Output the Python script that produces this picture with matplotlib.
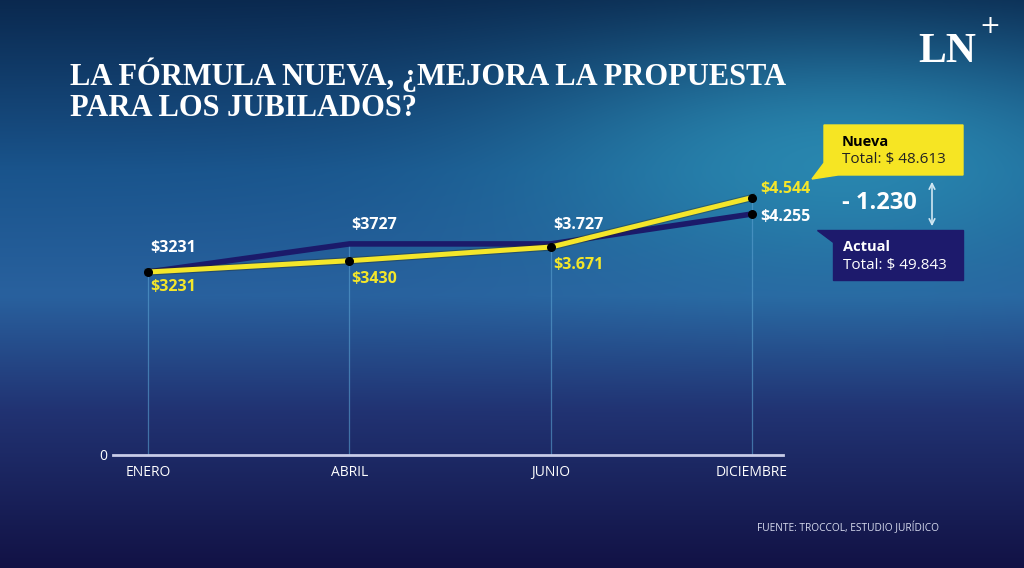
import numpy as np
import matplotlib
matplotlib.use("Agg")
import matplotlib.pyplot as plt
from matplotlib.patches import Polygon

meses = ["ENERO", "ABRIL", "JUNIO", "DICIEMBRE"]
actual = [3231, 3727, 3727, 4255]
nueva = [3231, 3430, 3671, 4544]
etiquetas_actual = ["$3231", "$3727", "$3.727", "$4.255"]
etiquetas_nueva = ["$3231", "$3430", "$3.671", "$4.544"]
total_nueva = "$ 48.613"
total_actual = "$ 49.843"
diferencia = "- 1.230"

AZUL = "#1b1a6a"
AMARILLO = "#f4e62a"

fig = plt.figure(figsize=(10.24, 5.68), dpi=100)

# fondo degradado
H, W = 568, 1024
yy, xx = np.mgrid[0:H, 0:W]
u = xx / W
v = yy / H
paradas = [0.0, 0.3, 0.52, 0.72, 1.0]
colores = np.array([[0.04, 0.16, 0.31],
                    [0.10, 0.33, 0.55],
                    [0.16, 0.38, 0.62],
                    [0.13, 0.20, 0.45],
                    [0.07, 0.07, 0.27]])
base = np.stack([np.interp(v, paradas, colores[:, c]) for c in range(3)], axis=-1)
teal = np.array([0.17, 0.56, 0.71])
glow = 0.85 * np.exp(-((u - 0.82) ** 2 / (2 * 0.22 ** 2) + (v - 0.28) ** 2 / (2 * 0.15 ** 2)))
img = base + (teal - base) * glow[..., None]
bg = fig.add_axes([0, 0, 1, 1])
bg.imshow(np.clip(img, 0, 1), aspect="auto", extent=[0, W, H, 0])
bg.set_xlim(0, W)
bg.set_ylim(H, 0)
bg.axis("off")

ax = fig.add_axes([113 / W, 113 / H, 670 / W, 305 / H])
ax.patch.set_alpha(0)
x = np.arange(len(meses))
ax.set_xlim(-0.174, 3.154)
ax.set_ylim(0, 5385)

for xi, a, n in zip(x, actual, nueva):
    ax.plot([xi, xi], [0, max(a, n)], color="#5aa0d0", lw=0.9, alpha=0.6, zorder=1)

ax.plot(x, actual, color=AZUL, lw=4, solid_capstyle="round", zorder=3)
ax.plot(x, nueva, color="#2a2a10", lw=5.2, alpha=0.35, zorder=4)
ax.plot(x, nueva, color=AMARILLO, lw=3.6, solid_capstyle="round", zorder=5)
ax.scatter(x, nueva, s=30, color="black", zorder=6)
ax.scatter([x[-1]], [actual[-1]], s=30, color="black", zorder=6)

# etiquetas de valores (desplazamientos en puntos)
offs_a = [(1.5, 17), (1.5, 13.5), (1.5, 13.5), (6, -2)]
offs_n = [(1.5, -11), (1.5, -13.5), (1.5, -13), (6, 6)]
for i in range(len(meses)):
    ax.annotate(etiquetas_actual[i], (x[i], actual[i]), xytext=offs_a[i],
                textcoords="offset points", color="white", fontsize=11.5,
                ha="left", va="center", fontweight="bold", family="Open Sans")
    ax.annotate(etiquetas_nueva[i], (x[i], nueva[i]), xytext=offs_n[i],
                textcoords="offset points", color=AMARILLO, fontsize=11.5,
                ha="left", va="center", fontweight="bold", family="Open Sans")

for s in ["top", "right", "left"]:
    ax.spines[s].set_visible(False)
ax.spines["bottom"].set_color("#c8cce8")
ax.spines["bottom"].set_linewidth(2)
ax.set_yticks([0])
ax.set_yticklabels(["0"])
ax.set_xticks(x)
ax.set_xticklabels(meses)
ax.tick_params(axis="both", length=0, colors="white", labelsize=10)
ax.tick_params(axis="x", pad=7)
ax.tick_params(axis="y", pad=4)
for t in ax.get_xticklabels() + ax.get_yticklabels():
    t.set_family("Open Sans")

# titulo
bg.text(70, 58, "LA FÓRMULA NUEVA, ¿MEJORA LA PROPUESTA\nPARA LOS JUBILADOS?",
        color="white", fontsize=22, fontweight="bold", family="Liberation Serif",
        va="top", ha="left", linespacing=1.05)

# logo
bg.text(918, 62, "LN", color="white", fontsize=30, fontweight="bold",
        family="Liberation Serif", va="baseline")
bg.text(979, 33, "+", color="white", fontsize=18, family="DejaVu Sans", va="baseline")

# cajas
bg.add_patch(Polygon([[824, 125], [963, 125], [963, 175], [838, 175], [812, 179], [824, 163]],
                     closed=True, color="#f6e523", zorder=5))
bg.text(842, 142, "Nueva", color="black", fontsize=10.5, fontweight="bold",
        family="Open Sans", va="center", zorder=6)
bg.text(842, 160, "Total: " + total_nueva, color="#222", fontsize=11,
        family="Open Sans", va="center", zorder=6)
bg.add_patch(Polygon([[817, 230], [963, 230], [963, 280], [833, 280], [833, 242]],
                     closed=True, color="#1d1a6c", zorder=5))
bg.text(843, 247, "Actual", color="white", fontsize=10.5, fontweight="bold",
        family="Open Sans", va="center", zorder=6)
bg.text(843, 266, "Total: " + total_actual, color="white", fontsize=11,
        family="Open Sans", va="center", zorder=6)

bg.text(879, 203, diferencia, color="white", fontsize=17, fontweight="bold",
        family="Open Sans", ha="center", va="center")
bg.annotate("", xy=(932, 179), xytext=(932, 229),
            arrowprops=dict(arrowstyle="<->", color="#cfe6f2", lw=1.2))

bg.text(757, 528, "FUENTE: TROCCOL, ESTUDIO JURÍDICO", color="#d8dcef",
        fontsize=7.3, family="Open Sans", va="center")

fig.savefig("out.png", dpi=100)
